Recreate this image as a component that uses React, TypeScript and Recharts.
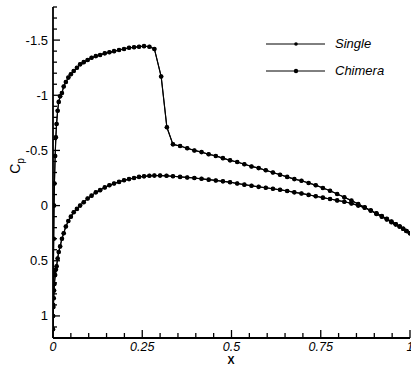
import { LineChart, Line, XAxis, YAxis } from "recharts";

// upper surface (suction side), leading edge -> trailing edge
const upperX = [
  0, 0.0005, 0.001, 0.002, 0.003, 0.004, 0.006, 0.008, 0.01, 0.013, 0.016, 0.02, 0.025, 0.03, 0.036,
  0.043, 0.05, 0.058, 0.067, 0.076, 0.086, 0.097, 0.108, 0.12, 0.132, 0.145, 0.158, 0.171, 0.185,
  0.199, 0.213, 0.227, 0.241, 0.255, 0.27, 0.284, 0.303, 0.319, 0.336, 0.356, 0.376, 0.396, 0.416,
  0.436, 0.456, 0.476, 0.496, 0.516, 0.536, 0.556, 0.576, 0.596, 0.616, 0.636, 0.656, 0.676, 0.696,
  0.716, 0.736, 0.756, 0.776, 0.796, 0.816, 0.836, 0.855, 0.873, 0.89, 0.906, 0.921, 0.935, 0.948,
  0.96, 0.971, 0.981, 0.99, 1,
];
const upperCp = [
  1.12, 0.9, 0.6, 0.3, 0.0, -0.2, -0.45, -0.62, -0.74, -0.86, -0.94, -0.99, -1.02, -1.08, -1.12,
  -1.16, -1.19, -1.22, -1.25, -1.28, -1.3, -1.32, -1.34, -1.355, -1.365, -1.38, -1.39, -1.4, -1.41,
  -1.42, -1.43, -1.435, -1.44, -1.445, -1.44, -1.42, -1.17, -0.71, -0.555, -0.54, -0.52, -0.5, -0.485,
  -0.465, -0.45, -0.43, -0.41, -0.395, -0.375, -0.355, -0.34, -0.32, -0.3, -0.28, -0.26, -0.24, -0.225,
  -0.205, -0.185, -0.16, -0.135, -0.105, -0.075, -0.045, -0.015, 0.015, 0.045, 0.075, 0.1, 0.125, 0.15,
  0.17, 0.19, 0.21, 0.23, 0.25,
];

// lower surface (pressure side), leading edge -> trailing edge
const lowerX = [
  0, 0.0005, 0.001, 0.002, 0.003, 0.004, 0.006, 0.008, 0.01, 0.013, 0.016, 0.02, 0.025, 0.03, 0.036,
  0.043, 0.05, 0.058, 0.067, 0.076, 0.086, 0.097, 0.108, 0.12, 0.132, 0.145, 0.158, 0.171, 0.185,
  0.199, 0.213, 0.227, 0.241, 0.255, 0.27, 0.284, 0.3, 0.318, 0.336, 0.356, 0.376, 0.396, 0.416,
  0.436, 0.456, 0.476, 0.496, 0.516, 0.536, 0.556, 0.576, 0.596, 0.616, 0.636, 0.656, 0.676, 0.696,
  0.716, 0.736, 0.756, 0.776, 0.796, 0.816, 0.836, 0.855, 0.873, 0.89, 0.906, 0.921, 0.935, 0.948,
  0.96, 0.971, 0.981, 0.99, 1,
];
const lowerCp = [
  1.12, 1.0, 0.92, 0.84, 0.77, 0.71, 0.63, 0.58, 0.55, 0.48, 0.42, 0.37, 0.3, 0.25, 0.19,
  0.14, 0.1, 0.06, 0.03, 0.0, -0.03, -0.065, -0.09, -0.12, -0.14, -0.165, -0.185, -0.2, -0.215,
  -0.23, -0.24, -0.25, -0.26, -0.265, -0.27, -0.272, -0.272, -0.27, -0.266, -0.26, -0.255, -0.25, -0.243,
  -0.235, -0.228, -0.22, -0.212, -0.2, -0.19, -0.18, -0.17, -0.162, -0.153, -0.143, -0.133, -0.12, -0.11,
  -0.097, -0.085, -0.072, -0.06, -0.047, -0.035, -0.02, 0.0, 0.02, 0.045, 0.07, 0.095, 0.12, 0.145,
  0.17, 0.19, 0.21, 0.23, 0.25,
];

const seriesNames = ["Single", "Chimera"];

const xTicks = [
  0, 0.05, 0.1, 0.15, 0.2, 0.25, 0.3, 0.35, 0.4, 0.45, 0.5, 0.55, 0.6, 0.65, 0.7, 0.75, 0.8, 0.85,
  0.9, 0.95, 1,
];
const xTickLabels = ["0", "0.25", "0.5", "0.75", "1"];
const yTicks = [
  -1.8, -1.7, -1.6, -1.5, -1.4, -1.3, -1.2, -1.1, -1, -0.9, -0.8, -0.7, -0.6, -0.5, -0.4, -0.3, -0.2,
  -0.1, 0, 0.1, 0.2, 0.3, 0.4, 0.5, 0.6, 0.7, 0.8, 0.9, 1, 1.1,
];
const yTickLabels = ["-1.5", "-1", "-0.5", "0", "0.5", "1"];

// closed loop around the section: TE -> lower -> LE -> upper -> TE
const buildLoop = () => {
  const pts: { x: number; cp: number }[] = [];
  for (let i = lowerX.length - 1; i >= 0; i--) pts.push({ x: lowerX[i], cp: lowerCp[i] });
  for (let i = 1; i < upperX.length; i++) pts.push({ x: upperX[i], cp: upperCp[i] });
  return pts;
};
const singleData = buildLoop();
const chimeraData = buildLoop();

const font = "'Liberation Sans', Arial, sans-serif";

const XTick = ({ x, y, payload }: any) => {
  const v = payload.value;
  const major = xTickLabels.includes(String(v));
  return (
    <g>
      <line x1={x} x2={x} y1={y} y2={y - (major ? 8 : 5)} stroke="#000" strokeWidth={1.3} />
      {major && (
        <text x={x} y={y + 12.5} textAnchor="middle" fontSize={12.5} fontStyle="italic" fontFamily={font} fill="#000">
          {String(v)}
        </text>
      )}
    </g>
  );
};

const YTick = ({ x, y, payload }: any) => {
  const v = payload.value;
  const major = yTickLabels.includes(String(v));
  return (
    <g>
      <line x1={x} x2={x + (major ? 7 : 4)} y1={y} y2={y} stroke="#000" strokeWidth={1.3} />
      {major && (
        <text x={x - 5} y={y + 4.5} textAnchor="end" fontSize={13} fontFamily={font} fill="#000">
          {String(v)}
        </text>
      )}
    </g>
  );
};

const LegendBox = () => (
  <div
    style={{
      position: "absolute",
      left: 266,
      top: 30,
      fontFamily: font,
      fontSize: 13,
      fontStyle: "italic",
      color: "#000",
    }}
  >
    {seriesNames.map((name, i) => (
      <div key={name} style={{ display: "flex", alignItems: "center", height: 27 }}>
        <svg width={69} height={10}>
          <line x1={0} x2={59} y1={5} y2={5} stroke="#000" strokeWidth={1} />
          <circle cx={30} cy={5} r={i === 0 ? 1.8 : 2.2} fill="#000" />
        </svg>
        <span>{name}</span>
      </div>
    ))}
  </div>
);

export default function App() {
  return (
    <div style={{ position: "relative", width: 411, height: 366, background: "#fff" }}>
      <style>{"body{margin:0}"}</style>
      <LineChart width={411} height={366} margin={{ top: 7, right: 1, left: 0, bottom: 0 }}>
        <XAxis
          type="number"
          dataKey="x"
          domain={[0, 1]}
          ticks={xTicks}
          interval={0}
          tickSize={0}
          tickMargin={0}
          tickLine={false}
          tick={XTick}
          height={28}
          axisLine={{ stroke: "#000", strokeWidth: 1.8 }}
          allowDataOverflow
          label={{
            content: () => (
              <text x={231} y={364} textAnchor="middle" fontFamily={font} fontSize={10.5} fontWeight="bold" fill="#000">
                X
              </text>
            ),
          }}
        />
        <YAxis
          type="number"
          dataKey="cp"
          domain={[-1.8, 1.2]}
          reversed
          ticks={yTicks}
          interval={0}
          tickSize={0}
          tickMargin={0}
          tickLine={false}
          tick={YTick}
          width={53}
          axisLine={{ stroke: "#000", strokeWidth: 1.8 }}
          allowDataOverflow
          label={{
            content: () => (
              <text
                transform="rotate(-90 20 166)"
                x={20}
                y={166}
                textAnchor="middle"
                fontFamily={font}
                fontSize={14}
                fill="#000"
              >
                C<tspan fontSize={10} dy={4}>p</tspan>
              </text>
            ),
          }}
        />
        <Line
          data={singleData}
          dataKey="cp"
          name={seriesNames[0]}
          stroke="#000"
          strokeWidth={1}
          dot={{ r: 2, fill: "#000", stroke: "none" }}
          isAnimationActive={false}
        />
        <Line
          data={chimeraData}
          dataKey="cp"
          name={seriesNames[1]}
          stroke="#000"
          strokeWidth={1.2}
          dot={{ r: 2.3, fill: "#000", stroke: "none" }}
          isAnimationActive={false}
        />
      </LineChart>
      <LegendBox />
    </div>
  );
}
